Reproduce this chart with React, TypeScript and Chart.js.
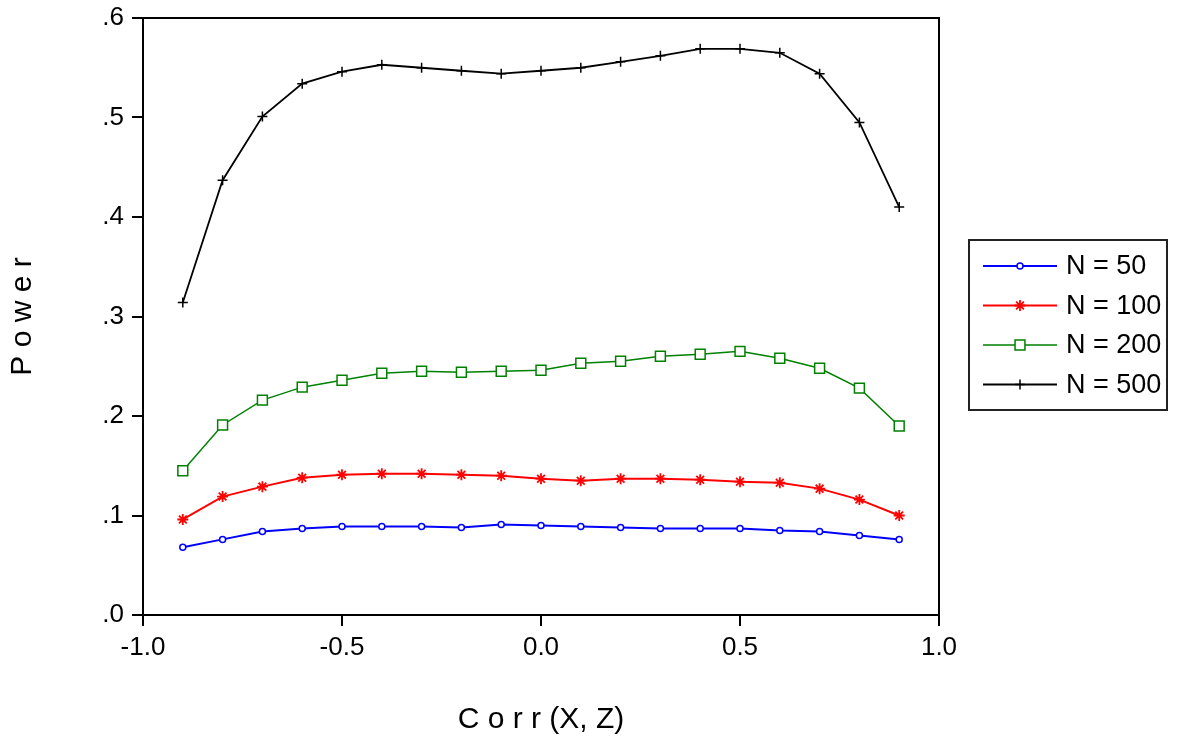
import React, { useEffect, useRef } from "react";
import { Chart, registerables } from "chart.js";
import { drawPoint } from "chart.js/helpers";

Chart.register(...registerables);

const corr = [-0.9, -0.8, -0.7, -0.6, -0.5, -0.4, -0.3, -0.2, -0.1, 0.0, 0.1, 0.2, 0.3, 0.4, 0.5, 0.6, 0.7, 0.8, 0.9];

const power50 = [0.068, 0.076, 0.084, 0.087, 0.089, 0.089, 0.089, 0.088, 0.091, 0.090, 0.089, 0.088, 0.087, 0.087, 0.087, 0.085, 0.084, 0.080, 0.076];
const power100 = [0.096, 0.119, 0.129, 0.138, 0.141, 0.142, 0.142, 0.141, 0.140, 0.137, 0.135, 0.137, 0.137, 0.136, 0.134, 0.133, 0.127, 0.116, 0.100];
const power200 = [0.145, 0.191, 0.216, 0.229, 0.236, 0.243, 0.245, 0.244, 0.245, 0.246, 0.253, 0.255, 0.260, 0.262, 0.265, 0.258, 0.248, 0.228, 0.190];
const power500 = [0.314, 0.437, 0.501, 0.534, 0.546, 0.553, 0.550, 0.547, 0.544, 0.547, 0.550, 0.556, 0.562, 0.569, 0.569, 0.565, 0.544, 0.495, 0.410];

const seriesLabels = ["N = 50", "N = 100", "N = 200", "N = 500"];
const yTickLabels = [".0", ".1", ".2", ".3", ".4", ".5", ".6"];
const xTickLabels = ["-1.0", "-0.5", "0.0", "0.5", "1.0"];

const toPoints = (arr: number[]) => arr.map((v, i) => ({ x: corr[i], y: v }));

const frameAndLegend = {
  id: "frameAndLegend",
  afterDraw(chart: any) {
    const { ctx, chartArea } = chart;
    ctx.save();
    ctx.strokeStyle = "#000";
    ctx.lineWidth = 2;
    ctx.beginPath();
    ctx.moveTo(chartArea.left, chartArea.top);
    ctx.lineTo(chartArea.right, chartArea.top);
    ctx.lineTo(chartArea.right, chartArea.bottom);
    ctx.stroke();

    // legend
    const bx = chartArea.right + 30;
    const by = 240;
    ctx.lineWidth = 2;
    ctx.strokeStyle = "#222";
    ctx.strokeRect(bx, by, 198, 170);
    chart.data.datasets.forEach((ds: any, i: number) => {
      const y = by + 26 + i * 39.5;
      ctx.strokeStyle = ds.borderColor;
      ctx.lineWidth = ds.borderWidth;
      ctx.beginPath();
      ctx.moveTo(bx + 14, y);
      ctx.lineTo(bx + 88, y);
      ctx.stroke();
      ctx.fillStyle = ds.pointBackgroundColor;
      ctx.strokeStyle = ds.pointBorderColor;
      ctx.lineWidth = ds.pointBorderWidth;
      drawPoint(ctx, { pointStyle: ds.pointStyle, radius: ds.pointRadius, borderWidth: ds.pointBorderWidth, rotation: 0 }, bx + 51, y);
      ctx.fillStyle = "#000";
      ctx.font = "27px 'Liberation Sans', Arial, sans-serif";
      ctx.textBaseline = "middle";
      ctx.textAlign = "left";
      ctx.fillText(ds.label, bx + 97, y + 1);
    });
    ctx.restore();
  },
};

export default function App() {
  const ref = useRef<HTMLCanvasElement | null>(null);
  useEffect(() => {
    if (!ref.current) return;
    const font = "'Liberation Sans', Arial, sans-serif";
    const chart = new Chart(ref.current, {
      type: "line",
      data: {
        datasets: [
          {
            label: seriesLabels[0],
            data: toPoints(power50),
            borderColor: "#0000ff",
            borderWidth: 2,
            pointStyle: "circle",
            pointRadius: 3,
            pointBackgroundColor: "#fff",
            pointBorderColor: "#0000ff",
            pointBorderWidth: 1.5,
          },
          {
            label: seriesLabels[1],
            data: toPoints(power100),
            borderColor: "#ff0000",
            borderWidth: 2,
            pointStyle: "star",
            pointRadius: 5.5,
            pointBackgroundColor: "#ff0000",
            pointBorderColor: "#ff0000",
            pointBorderWidth: 1.8,
          },
          {
            label: seriesLabels[2],
            data: toPoints(power200),
            borderColor: "#008000",
            borderWidth: 1.5,
            pointStyle: "rect",
            pointRadius: 7,
            pointBackgroundColor: "#fff",
            pointBorderColor: "#008000",
            pointBorderWidth: 1.5,
          },
          {
            label: seriesLabels[3],
            data: toPoints(power500),
            borderColor: "#000",
            borderWidth: 1.8,
            pointStyle: "cross",
            pointRadius: 5,
            pointBackgroundColor: "#000",
            pointBorderColor: "#000",
            pointBorderWidth: 1.5,
          },
        ],
      },
      options: {
        animation: false,
        responsive: false,
        maintainAspectRatio: false,
        layout: { padding: { left: 0, top: 18, right: 264, bottom: 0 } },
        plugins: { legend: { display: false }, tooltip: { enabled: false } },
        scales: {
          x: {
            type: "linear",
            min: -1,
            max: 1,
            afterFit: (s: any) => { s.height = 125; s.paddingLeft = 0; s.paddingRight = 0; },
            afterBuildTicks: (s: any) => {
              s.ticks = xTickLabels.map((t) => ({ value: parseFloat(t) }));
            },
            ticks: {
              color: "#000",
              font: { family: font, size: 26 },
              padding: 6,
              maxRotation: 0,
              callback: (_v: any, i: number) => xTickLabels[i],
            },
            grid: { drawOnChartArea: false, drawTicks: true, tickLength: 11, color: "#000", lineWidth: 2 },
            border: { display: true, color: "#000", width: 2 },
            title: {
              display: true,
              text: "C o r r (X, Z)",
              color: "#000",
              font: { family: font, size: 30 },
              padding: { top: 0, bottom: 2 },
            },
          },
          y: {
            type: "linear",
            min: 0,
            max: 0.6,
            afterFit: (s: any) => { s.width = 143; s.paddingTop = 0; s.paddingBottom = 0; },
            afterBuildTicks: (s: any) => {
              s.ticks = yTickLabels.map((t) => ({ value: parseFloat("0" + t) }));
            },
            ticks: {
              color: "#000",
              font: { family: font, size: 26 },
              padding: 8,
              callback: (_v: any, i: number) => yTickLabels[i],
            },
            grid: { drawOnChartArea: false, drawTicks: true, tickLength: 11, color: "#000", lineWidth: 2 },
            border: { display: true, color: "#000", width: 2 },
            title: {
              display: true,
              text: "P o w e r",
              color: "#000",
              font: { family: font, size: 30 },
              padding: { top: 5, bottom: 0 },
            },
          },
        },
      },
      plugins: [frameAndLegend],
    });
    return () => chart.destroy();
  }, []);
  return (
    <div style={{ position: "absolute", left: 0, top: 0, width: 1203, height: 740, background: "#fff" }}>
      <canvas ref={ref} width={1203} height={740} style={{ width: 1203, height: 740, display: "block" }} />
    </div>
  );
}
